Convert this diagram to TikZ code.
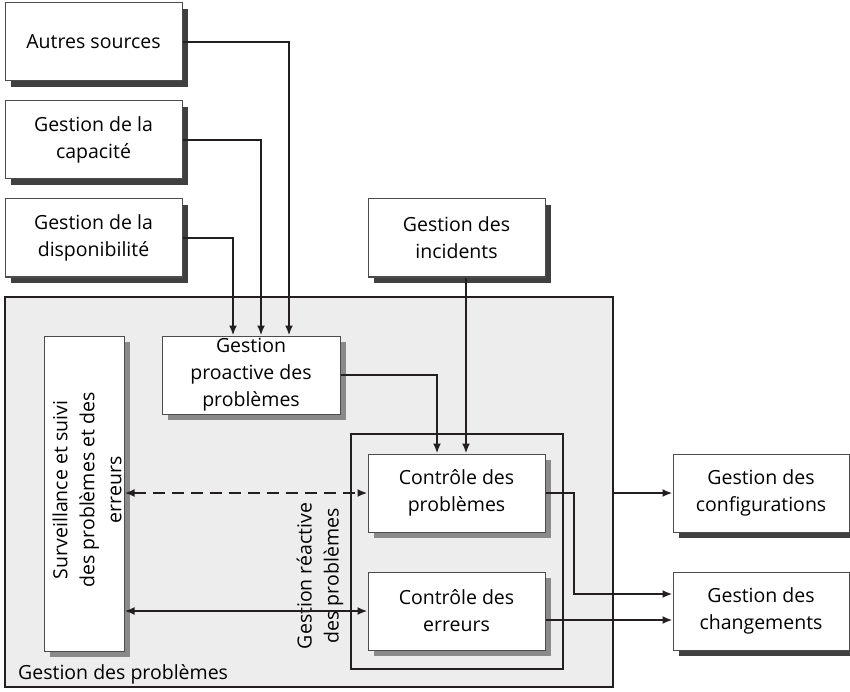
\documentclass[tikz,border=0pt]{standalone}
\usepackage{fontspec}
\setmainfont{Open Sans}
\usetikzlibrary{shadows,arrows.meta}
\definecolor{bgfill}{HTML}{ECEDEC}
\definecolor{shdark}{HTML}{404040}
\definecolor{shmid}{HTML}{8A8A8A}
\definecolor{lnc}{HTML}{231F20}
\tikzset{
  txt/.style={font=\fontsize{19.5}{27}\selectfont, text=black},
  boxa/.style={txt, draw=black!70, line width=1pt, fill=white, align=center, inner sep=0pt,
     drop shadow={shadow xshift=6pt, shadow yshift=-6pt, fill=shdark, opacity=1}},
  boxb/.style={boxa, drop shadow={shadow xshift=6pt, shadow yshift=-6pt, fill=shmid, opacity=1}},
  conn/.style={draw=lnc, line width=2.6pt},
  arr/.style={conn, -{Latex[length=10pt,width=8pt]}},
  darr/.style={conn, {Latex[length=10pt,width=8pt]}-{Latex[length=10pt,width=8pt]}},
}
\begin{document}
\begin{tikzpicture}[x=1pt,y=-1pt]
\useasboundingbox (0,0) rectangle (850,692);
% outer group
\node[draw=lnc, line width=2.4pt, fill=bgfill, minimum width=608pt, minimum height=390pt, inner sep=0pt] (big) at (309,492) {};
\node[txt, anchor=base west, inner sep=0pt] (lbl) at (18,679) {Gestion des problèmes};
\node[draw=lnc, line width=2.4pt, minimum width=212pt, minimum height=235pt, inner sep=0pt] (inner) at (457,551.5) {};
% boxes
\node[boxa, minimum width=177pt, minimum height=78pt] (src1) at (93.5,42) {Autres sources};
\node[boxa, minimum width=177pt, minimum height=78pt] (src2) at (93.5,140) {Gestion de la\\capacité};
\node[boxa, minimum width=177pt, minimum height=78pt] (src3) at (93.5,238) {Gestion de la\\disponibilité};
\node[boxa, minimum width=177pt, minimum height=78pt] (inc) at (456.5,238) {Gestion des\\incidents};
\node[boxb, minimum width=80pt, minimum height=315pt] (surv) at (84,493.5) {};
\node[txt, rotate=90, align=center, inner sep=0pt] (survt) at (87,490) {Surveillance et suivi\\des problèmes et des\\erreurs};
\node[boxb, minimum width=178pt, minimum height=78pt] (pro) at (251,375) {Gestion\\proactive des\\problèmes};
\node[boxb, minimum width=177pt, minimum height=78pt] (cp) at (456.5,493) {Contrôle des\\problèmes};
\node[boxb, minimum width=177pt, minimum height=78pt] (ce) at (456.5,611) {Contrôle des\\erreurs};
\node[boxa, minimum width=176pt, minimum height=78pt] (cfg) at (761,493) {Gestion des\\configurations};
\node[boxa, minimum width=176pt, minimum height=78pt] (chg) at (761,611) {Gestion des\\changements};
\node[txt, rotate=90, align=center, inner sep=0pt] (react) at (320,576) {Gestion réactive\\des problèmes};
% routing coordinates
\coordinate (x1) at (289,0);
\coordinate (x2) at (261,0);
\coordinate (x3) at (233,0);
\coordinate (x4) at (437,0);
\coordinate (x5) at (466,0);
\coordinate (x6) at (574,0);
\coordinate (y6) at (0,594);
\coordinate (y7) at (0,620);
% connectors
\draw[arr] (src1.east) -| (pro.north -| x1);
\draw[arr] (src2.east) -| (pro.north -| x2);
\draw[arr] (src3.east) -| (pro.north -| x3);
\draw[arr] (inc.south -| x5) -- (cp.north -| x5);
\draw[arr] (pro.east) -| (cp.north -| x4);
\draw[darr, dash pattern=on 12pt off 7pt] (surv.east |- cp.west) -- (cp.west);
\draw[darr] (surv.east |- ce.west) -- (ce.west);
\draw[arr] (cp.east) -| (x6 |- y6) -- (chg.west |- y6);
\draw[arr] (ce.east |- y7) -- (chg.west |- y7);
\draw[arr] (big.east |- cfg.west) -- (cfg.west);
\end{tikzpicture}
\end{document}
